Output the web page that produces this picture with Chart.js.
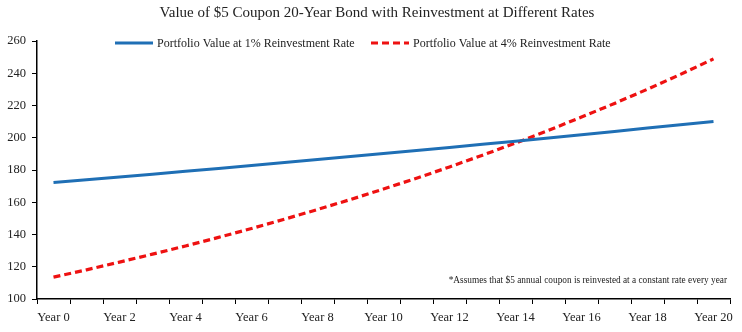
<!DOCTYPE html>
<html>
<head>
<meta charset="utf-8">
<script src="https://cdn.jsdelivr.net/npm/chart.js@4"></script>
<style>
  body { margin: 0; background: #fff; }
  #wrap { width: 742px; height: 332px; }
</style>
</head>
<body>
<div id="wrap"><canvas id="bondChart" width="742" height="332"></canvas></div>
<script>
// Data
const years = [
  "Year 0", "Year 1", "Year 2", "Year 3", "Year 4", "Year 5", "Year 6",
  "Year 7", "Year 8", "Year 9", "Year 10", "Year 11", "Year 12", "Year 13",
  "Year 14", "Year 15", "Year 16", "Year 17", "Year 18", "Year 19", "Year 20",
];
const value1pct = [
  172.2, 173.9, 175.7, 177.4, 179.2, 181.0, 182.8, 184.6, 186.5, 188.3,
  190.2, 192.1, 194.0, 196.0, 197.9, 199.9, 201.9, 203.9, 206.0, 208.0, 210.1,
];
const value4pct = [
  113.6, 118.1, 122.9, 127.8, 132.9, 138.2, 143.7, 149.5, 155.5, 161.7,
  168.2, 174.9, 181.9, 189.2, 196.7, 204.6, 212.8, 221.3, 230.1, 239.3, 248.9,
];
const seriesLabels = [
  "Portfolio Value at 1% Reinvestment Rate",
  "Portfolio Value at 4% Reinvestment Rate",
];
const chartTitle = "Value of $5 Coupon 20-Year Bond with Reinvestment at Different Rates";
const footNote = "*Assumes that $5 annual coupon is reinvested at a constant rate every year";

const serif = "'Liberation Serif', 'Times New Roman', serif";

// Draws title, the in-plot legend and the footnote
const decorations = {
  id: "decorations",
  afterDraw(chart) {
    const ctx = chart.ctx;
    ctx.save();
    ctx.fillStyle = "#222";
    ctx.textBaseline = "middle";

    // title
    ctx.font = `15px ${serif}`;
    ctx.textAlign = "center";
    ctx.fillText(chartTitle, 377, 13);

    // legend
    ctx.font = `12px ${serif}`;
    ctx.textAlign = "left";
    const legendPos = [{ x: 115, y: 43 }, { x: 371, y: 43 }];
    chart.data.datasets.forEach((ds, i) => {
      const p = legendPos[i];
      ctx.save();
      ctx.strokeStyle = ds.borderColor;
      ctx.lineWidth = ds.borderWidth;
      ctx.setLineDash(ds.borderDash || []);
      ctx.beginPath();
      ctx.moveTo(p.x, p.y);
      ctx.lineTo(p.x + 38, p.y);
      ctx.stroke();
      ctx.restore();
      ctx.fillText(ds.label, p.x + 42, p.y + 1);
    });

    // footnote
    ctx.font = `9.3px ${serif}`;
    ctx.textAlign = "right";
    ctx.fillText(footNote, 727, 281);
    ctx.restore();
  },
};

new Chart(document.getElementById("bondChart"), {
  type: "line",
  data: {
    labels: years,
    datasets: [
      {
        label: seriesLabels[0],
        data: value1pct,
        borderColor: "#1f6fb5",
        borderWidth: 3,
        pointRadius: 0,
        tension: 0,
      },
      {
        label: seriesLabels[1],
        data: value4pct,
        borderColor: "#ee1111",
        borderWidth: 3.2,
        borderDash: [7, 4],
        pointRadius: 0,
        tension: 0,
      },
    ],
  },
  options: {
    responsive: false,
    animation: false,
    layout: { padding: { top: 41, right: 12, left: 0, bottom: 0 } },
    plugins: {
      legend: { display: false },
      title: { display: false },
      tooltip: { enabled: false },
    },
    scales: {
      x: {
        offset: true,
        grid: {
          offset: true,
          drawOnChartArea: false,
          color: "#000",
          tickLength: 5,
        },
        border: { color: "#000", width: 1.5 },
        ticks: {
          autoSkip: false,
          maxRotation: 0,
          color: "#222",
          font: { family: serif, size: 12.5 },
          padding: 6,
          callback: (v, i) => (i % 2 === 0 ? years[i] : ""),
        },
        afterFit: (scale) => { scale.height = 33; },
      },
      y: {
        min: 100,
        max: 260,
        grid: { drawOnChartArea: false, color: "#000", tickLength: 5 },
        border: { color: "#000", width: 1.5 },
        ticks: {
          stepSize: 20,
          color: "#222",
          font: { family: serif, size: 12.5 },
          padding: 6,
        },
        afterFit: (scale) => { scale.width = 37; },
      },
    },
  },
  plugins: [decorations],
});
</script>
</body>
</html>
